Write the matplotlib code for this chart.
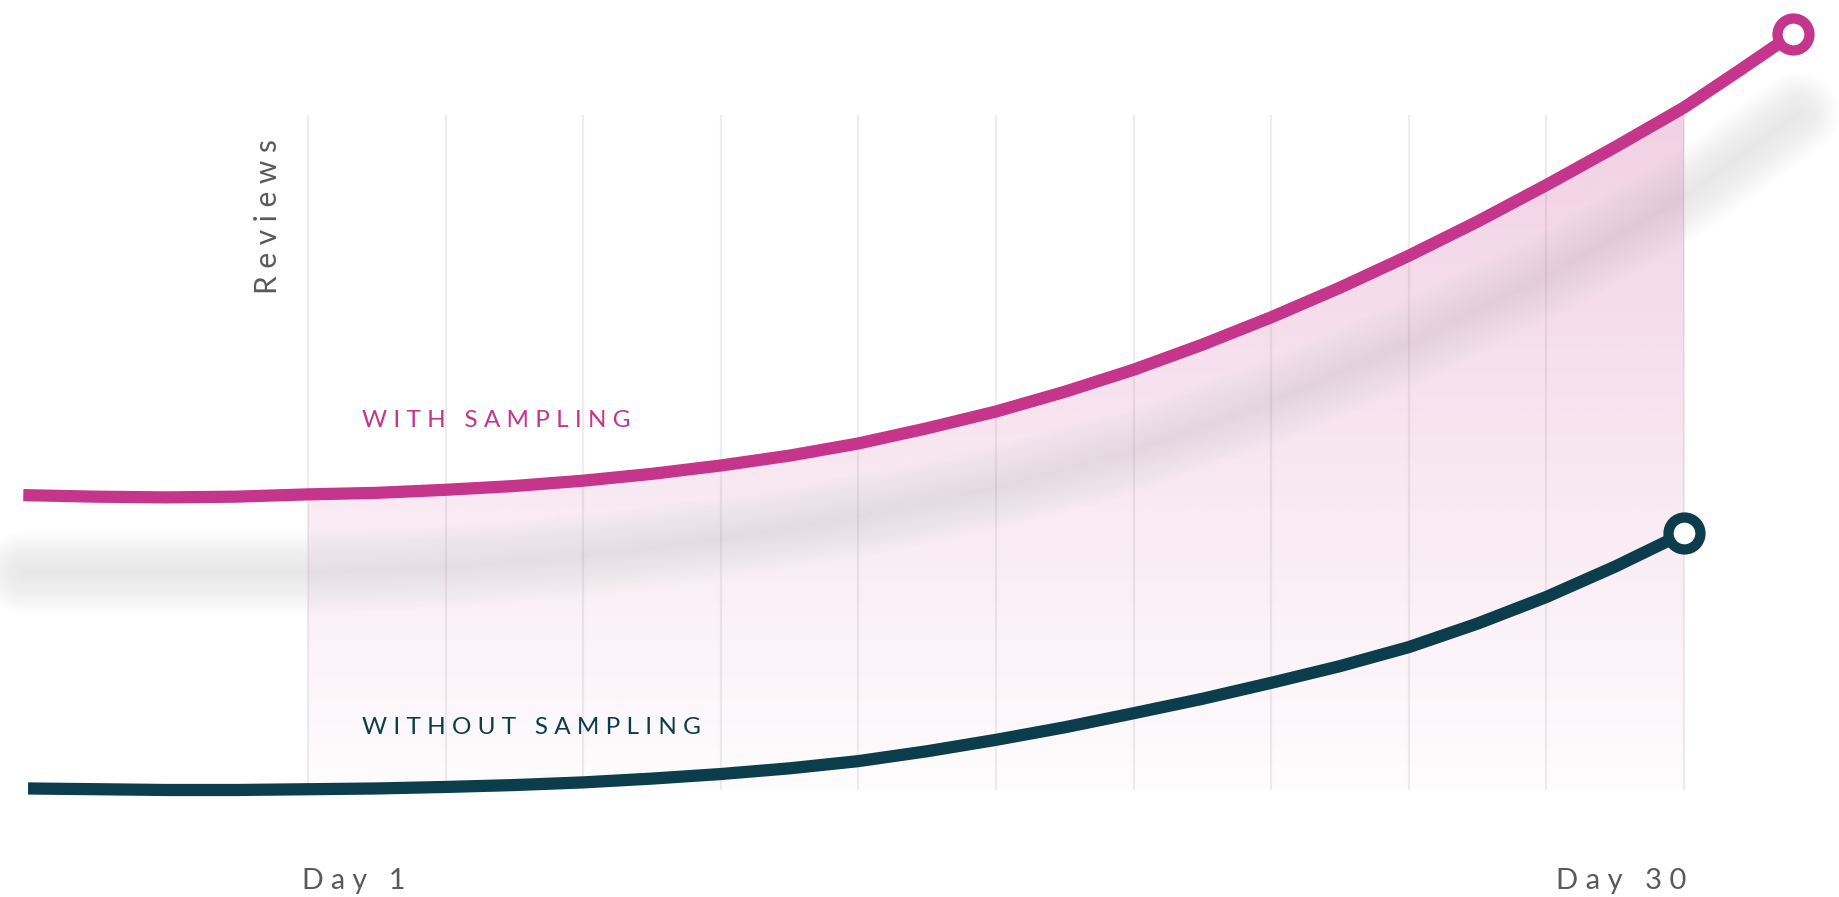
import numpy as np
import matplotlib
matplotlib.use("Agg")
import matplotlib.pyplot as plt
from matplotlib.patches import Polygon

# ---------------- data ----------------
with_days = [-5.0, -3.5, -2.0, -0.5, 1.0, 2.45, 3.9, 5.35, 6.8, 8.25, 9.7,
             11.15, 12.6, 14.05, 15.5, 16.95, 18.4, 19.85, 21.3, 22.75, 24.2,
             25.65, 27.1, 28.55, 30.0, 31.15, 32.3]
with_reviews = [38.8, 38.6, 38.5, 38.6, 38.9, 39.1, 39.5, 40.0, 40.7, 41.6, 42.7,
                44.0, 45.6, 47.6, 49.8, 52.4, 55.3, 58.6, 62.2, 66.1, 70.3,
                74.8, 79.6, 84.6, 89.8, 94.6, 99.5]

without_days = [-4.9, -3.4, -2.0, -0.5, 1.0, 2.45, 3.9, 5.35, 6.8, 8.25, 9.7,
                11.15, 12.6, 14.05, 15.5, 16.95, 18.4, 19.85, 21.3, 22.75, 24.2,
                25.65, 27.1, 28.55, 30.0]
without_reviews = [0.2, 0.1, 0.0, 0.0, 0.1, 0.2, 0.4, 0.65, 1.0, 1.5, 2.1,
                   2.85, 3.8, 5.1, 6.6, 8.25, 10.1, 12.0, 14.1, 16.3, 18.8,
                   21.9, 25.4, 29.4, 33.8]

shadow_days = [-5.0, -2.0, 0.8, 3.9, 6.8, 9.7, 12.6, 15.5, 18.4, 21.3, 24.2,
               27.1, 30.0, 31.2, 32.4]
shadow_reviews = [28.6, 28.6, 28.6, 29.3, 30.7, 33.0, 36.0, 39.8, 44.6, 51.0,
                  58.8, 67.6, 78.0, 83.5, 89.0]

grid_days = [1.0, 3.9, 6.8, 9.7, 12.6, 15.5, 18.4, 21.3, 24.2, 27.1, 30.0]
grid_top = 88.8

series_labels = ["WITH SAMPLING", "WITHOUT SAMPLING"]
x_labels = ["Day 1", "Day 30"]
y_label = "Reviews"

MAGENTA = "#C5358B"
DARK = "#0B3D4C"
GRAY_TXT = "#5a5a5a"

# ---------------- figure ----------------
W, H = 1839, 897
fig = plt.figure(figsize=(W / 100, H / 100), dpi=100)
ax = fig.add_axes([0, 0, 1, 1])
ax.set_xlim(-5.491, 33.267)
ax.set_ylim(-14.08, 103.95)
ax.axis("off")


def spaced(s):
    return " ".join(s)


def px(xp, yp):
    return xp / W, 1 - yp / H


# gradient fill between the magenta curve and the baseline (Day 1 .. Day 30)
wd = np.array(with_days)
wr = np.array(with_reviews)
mask = (wd >= 1.0) & (wd <= 30.0)
poly_pts = list(zip(wd[mask], wr[mask])) + [(30.0, 0.0), (1.0, 0.0)]
clip = Polygon(poly_pts, closed=True, facecolor="none", edgecolor="none")
ax.add_patch(clip)
n = 256
alpha = np.linspace(0.24, 0.015, n)[:, None]
rgb = np.array(matplotlib.colors.to_rgb(MAGENTA))
grad = np.zeros((n, 2, 4))
grad[..., :3] = rgb
grad[..., 3] = alpha
im = ax.imshow(grad, extent=[1.0, 30.0, 0.0, 92.0], origin="upper",
               aspect="auto", interpolation="bilinear", zorder=1)
im.set_clip_path(clip)

# vertical gridlines
ax.vlines(grid_days, 0.0, grid_top, colors=(0.45, 0.45, 0.45), alpha=0.12,
          linewidth=1.6, zorder=2)

# soft blurred shadow
for lw in np.arange(3, 62, 4):
    ax.plot(shadow_days, shadow_reviews, color="#707070", alpha=0.0082,
            linewidth=lw, solid_capstyle="round", solid_joinstyle="round",
            zorder=3)

# the two curves
ax.plot(with_days, with_reviews, color=MAGENTA, linewidth=8.8,
        solid_capstyle="butt", solid_joinstyle="round", zorder=4)
ax.plot(without_days, without_reviews, color=DARK, linewidth=8.8,
        solid_capstyle="butt", solid_joinstyle="round", zorder=4)

# end markers
ax.plot(with_days[-1], with_reviews[-1], "o", ms=23, mew=7.4, mfc="white",
        mec=MAGENTA, zorder=5)
ax.plot(without_days[-1], without_reviews[-1], "o", ms=23, mew=7.4,
        mfc="white", mec=DARK, zorder=5)

# texts
FONT = "Lato"
ax.text(*px(362, 420), spaced(series_labels[0]), transform=ax.transAxes,
        ha="left", va="center", fontsize=17.5, color=MAGENTA, family=FONT)
ax.text(*px(362, 727), spaced(series_labels[1]), transform=ax.transAxes,
        ha="left", va="center", fontsize=17.5, color=DARK, family=FONT)
ax.text(*px(302, 881), spaced(x_labels[0]), transform=ax.transAxes,
        ha="left", va="center", fontsize=20.5, color=GRAY_TXT, family=FONT)
ax.text(*px(1686, 881), spaced(x_labels[1]), transform=ax.transAxes,
        ha="right", va="center", fontsize=21, color=GRAY_TXT, family=FONT)
ax.text(*px(268, 217), spaced(y_label), transform=ax.transAxes,
        ha="center", va="center", rotation=90, fontsize=21.5, color=GRAY_TXT,
        family=FONT)

fig.savefig("out.png", dpi=100, facecolor="white")
